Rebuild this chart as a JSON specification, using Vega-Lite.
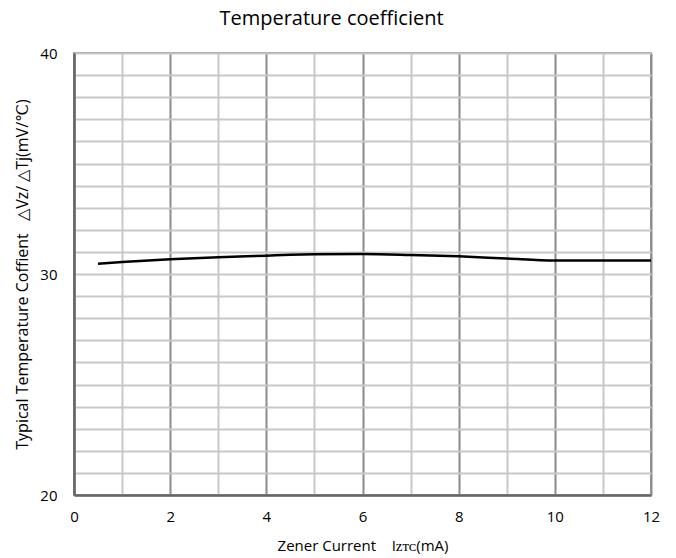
{
  "$schema": "https://vega.github.io/schema/vega-lite/v6.json",
  "width": 577,
  "height": 442,
  "autosize": {"type": "none"},
  "padding": {"left": 74, "top": 53, "right": 25, "bottom": 63},
  "background": "white",
  "config": {
    "font": "Open Sans",
    "view": {"stroke": "#777", "strokeWidth": 1.5}
  },
  "title": {
    "text": "Temperature coefficient",
    "fontSize": 20,
    "fontWeight": "normal",
    "font": "Open Sans",
    "color": "#000",
    "anchor": "middle",
    "dx": -31,
    "offset": 17
  },
  "data": {
    "values": [
      {"I": 0.5, "T": 30.46},
      {"I": 1, "T": 30.54},
      {"I": 2, "T": 30.67},
      {"I": 3, "T": 30.76},
      {"I": 4, "T": 30.83},
      {"I": 4.5, "T": 30.87},
      {"I": 5, "T": 30.89},
      {"I": 6, "T": 30.9},
      {"I": 7, "T": 30.86},
      {"I": 8, "T": 30.8},
      {"I": 9, "T": 30.7},
      {"I": 10, "T": 30.61},
      {"I": 11, "T": 30.61},
      {"I": 12, "T": 30.61}
    ]
  },
  "mark": {"type": "line", "color": "#000", "strokeWidth": 2.5, "interpolate": "monotone"},
  "encoding": {
    "x": {
      "field": "I",
      "type": "quantitative",
      "scale": {"domain": [0, 12], "nice": false, "zero": false},
      "axis": {
        "title": "Zener Current \u00a0\u00a0\u00a0Iᴢᴛᴄ(mA)",
        "titleFont": "Open Sans",
        "titleFontSize": 15,
        "titleFontWeight": "normal",
        "titleColor": "#000",
        "titlePadding": 14,
        "values": [0,1,2,3,4,5,6,7,8,9,10,11,12],
        "labelExpr": "datum.value % 2 === 0 ? datum.label : ''",
        "labelFontSize": 15,
        "labelColor": "#000",
        "labelPadding": 14,
        "labelFlush": false,
        "ticks": false,
        "grid": true,
        "gridColor": {"condition": {"test": "datum.value % 2 === 0", "value": "#8c8c8c"}, "value": "#c8c8c8"},
        "gridWidth": 2,
        "domainColor": "#666",
        "domainWidth": 2.5
      }
    },
    "y": {
      "field": "T",
      "type": "quantitative",
      "scale": {"domain": [20, 40], "nice": false, "zero": false},
      "axis": {
        "title": "Typical Temperature Coffient \u00a0\u00a0△Vz/ △Tj(mV/℃)",
        "titleFont": "Open Sans",
        "titleFontSize": 16,
        "titleFontWeight": "normal",
        "titleColor": "#000",
        "titlePadding": 9,
        "values": [20,21,22,23,24,25,26,27,28,29,30,31,32,33,34,35,36,37,38,39,40],
        "labelExpr": "datum.value % 10 === 0 ? datum.label : ''",
        "labelFontSize": 15,
        "labelColor": "#000",
        "labelPadding": 17,
        "labelBaseline": "middle",
        "labelFlush": false,
        "ticks": false,
        "grid": true,
        "gridColor": "#c8c8c8",
        "gridWidth": 2,
        "domainColor": "#666",
        "domainWidth": 2.5
      }
    }
  }
}
